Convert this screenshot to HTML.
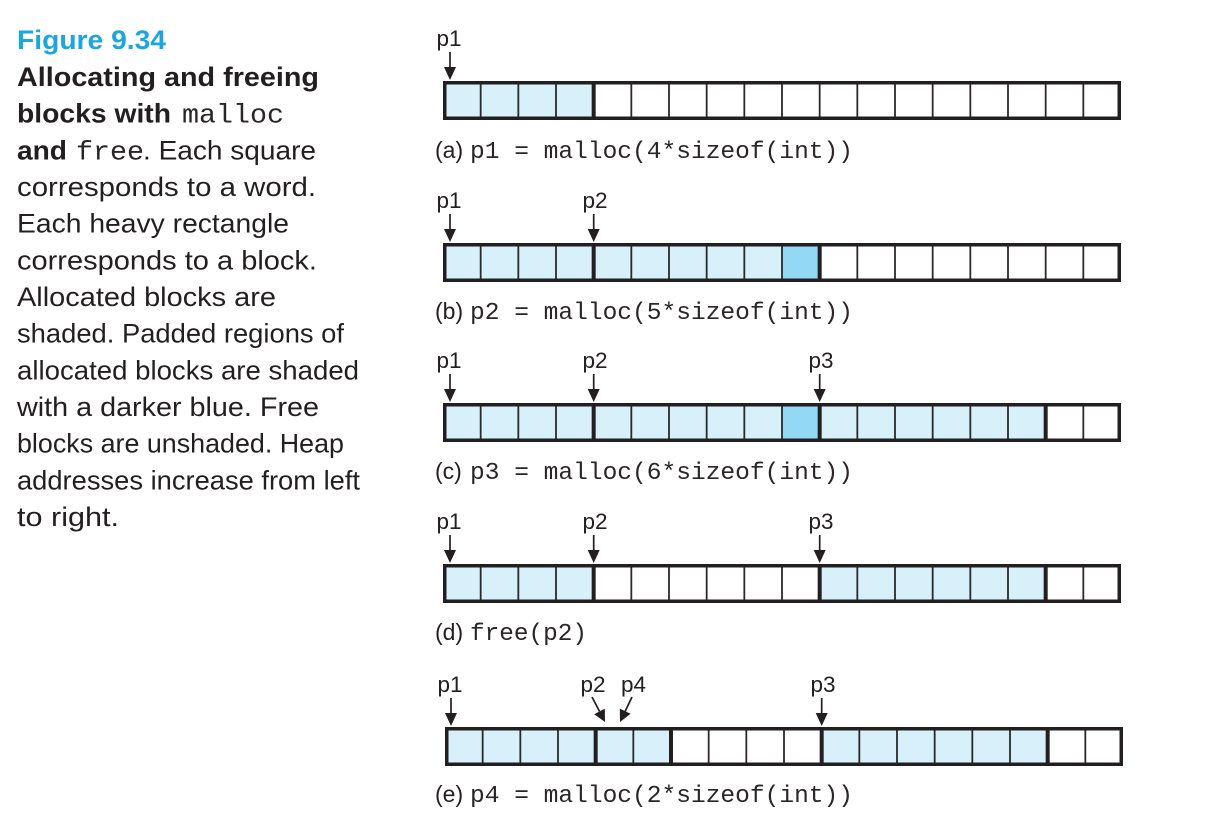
<!DOCTYPE html>
<html><head><meta charset="utf-8"><style>
html,body{margin:0;padding:0;background:#fff;}
svg{display:block;}
.sb{font-family:"Liberation Sans",sans-serif;font-weight:bold;font-size:27px;fill:#231f20;}
.sr{font-family:"Liberation Sans",sans-serif;font-size:27px;fill:#231f20;}
.mc{font-family:"Liberation Mono",monospace;font-size:27px;fill:#2a2627;}
.lb{font-family:"Liberation Sans",sans-serif;font-size:22.5px;fill:#231f20;}
.cl{font-family:"Liberation Sans",sans-serif;font-size:23px;fill:#231f20;}
.cm{font-family:"Liberation Mono",monospace;font-size:24.5px;fill:#2a2627;}
</style></head><body>
<svg width="1213" height="828" viewBox="0 0 1213 828" xmlns="http://www.w3.org/2000/svg">
<defs>
<path id="thin" d="M37.67 0V39M75.33 0V39M113 0V39M150.67 0V39M188.33 0V39M226 0V39M263.67 0V39M301.33 0V39M339 0V39M376.67 0V39M414.33 0V39M452 0V39M489.67 0V39M527.33 0V39M565 0V39M602.67 0V39M640.33 0V39" stroke="#2a2a2a" stroke-width="1.8" fill="none"/>
<rect id="outer" x="1.75" y="1.75" width="674.5" height="35.5" fill="none" stroke="#231f20" stroke-width="3.5"/>
<g id="arr"><line x1="0" y1="-29" x2="0" y2="-12" stroke="#231f20" stroke-width="1.7"/><polygon points="-6,-14 6,-14 0,-1" fill="#231f20"/></g>
</defs>

<!-- Left caption -->
<text x="17" y="49" class="sb" style="fill:#1ca6e0" textLength="149" lengthAdjust="spacingAndGlyphs">Figure 9.34</text>
<text x="17" y="86" class="sb" textLength="302" lengthAdjust="spacingAndGlyphs">Allocating and freeing</text>
<text x="17" y="122.7" class="sb" textLength="154" lengthAdjust="spacingAndGlyphs">blocks with</text>
<text x="182" y="122.7" class="mc" textLength="102" lengthAdjust="spacingAndGlyphs">malloc</text>
<text x="17" y="159.3" class="sb" textLength="50" lengthAdjust="spacingAndGlyphs">and</text>
<text x="76" y="159.3" class="mc" textLength="68" lengthAdjust="spacingAndGlyphs">free</text>
<text x="143" y="159.3" class="sr" textLength="173" lengthAdjust="spacingAndGlyphs">. Each square</text>
<text x="17" y="196" class="sr" textLength="299" lengthAdjust="spacingAndGlyphs">corresponds to a word.</text>
<text x="17" y="232.7" class="sr" textLength="272" lengthAdjust="spacingAndGlyphs">Each heavy rectangle</text>
<text x="17" y="269.3" class="sr" textLength="300" lengthAdjust="spacingAndGlyphs">corresponds to a block.</text>
<text x="17" y="306" class="sr" textLength="259" lengthAdjust="spacingAndGlyphs">Allocated blocks are</text>
<text x="17" y="342.7" class="sr" textLength="327" lengthAdjust="spacingAndGlyphs">shaded. Padded regions of</text>
<text x="17" y="379.3" class="sr" textLength="342" lengthAdjust="spacingAndGlyphs">allocated blocks are shaded</text>
<text x="17" y="416" class="sr" textLength="302" lengthAdjust="spacingAndGlyphs">with a darker blue. Free</text>
<text x="17" y="452.7" class="sr" textLength="327" lengthAdjust="spacingAndGlyphs">blocks are unshaded. Heap</text>
<text x="17" y="489.3" class="sr" textLength="343" lengthAdjust="spacingAndGlyphs">addresses increase from left</text>
<text x="17" y="526" class="sr" textLength="102" lengthAdjust="spacingAndGlyphs">to right.</text>

<!-- Row a -->
<g transform="translate(443,81)">
<rect x="0" y="0" width="150.67" height="39" fill="#d7f0fa"/>
<use href="#thin"/>
<path d="M150.67 0V39" stroke="#231f20" stroke-width="4"/>
<use href="#outer"/>
</g>
<text x="449" y="46" class="lb" text-anchor="middle">p1</text>
<use href="#arr" x="450" y="81"/>
<text x="435" y="158" class="cl">(a)</text>
<text x="470" y="158" class="cm" textLength="383" lengthAdjust="spacingAndGlyphs">p1 = malloc(4*sizeof(int))</text>

<!-- Row b -->
<g transform="translate(443,243)">
<rect x="0" y="0" width="339" height="39" fill="#d7f0fa"/>
<rect x="339" y="0" width="37.67" height="39" fill="#93d8f4"/>
<use href="#thin"/>
<path d="M150.67 0V39M376.67 0V39" stroke="#231f20" stroke-width="4"/>
<use href="#outer"/>
</g>
<text x="449" y="208" class="lb" text-anchor="middle">p1</text>
<use href="#arr" x="450" y="243"/>
<text x="595" y="208" class="lb" text-anchor="middle">p2</text>
<use href="#arr" x="593.7" y="243"/>
<text x="435" y="319" class="cl">(b)</text>
<text x="470" y="319" class="cm" textLength="383" lengthAdjust="spacingAndGlyphs">p2 = malloc(5*sizeof(int))</text>

<!-- Row c -->
<g transform="translate(443,403)">
<rect x="0" y="0" width="339" height="39" fill="#d7f0fa"/>
<rect x="339" y="0" width="37.67" height="39" fill="#93d8f4"/>
<rect x="376.67" y="0" width="226" height="39" fill="#d7f0fa"/>
<use href="#thin"/>
<path d="M150.67 0V39M376.67 0V39M602.67 0V39" stroke="#231f20" stroke-width="4"/>
<use href="#outer"/>
</g>
<text x="449" y="368" class="lb" text-anchor="middle">p1</text>
<use href="#arr" x="450" y="403"/>
<text x="595" y="368" class="lb" text-anchor="middle">p2</text>
<use href="#arr" x="593.7" y="403"/>
<text x="821" y="368" class="lb" text-anchor="middle">p3</text>
<use href="#arr" x="819.7" y="403"/>
<text x="435" y="479" class="cl">(c)</text>
<text x="470" y="479" class="cm" textLength="383" lengthAdjust="spacingAndGlyphs">p3 = malloc(6*sizeof(int))</text>

<!-- Row d -->
<g transform="translate(443,564)">
<rect x="0" y="0" width="150.67" height="39" fill="#d7f0fa"/>
<rect x="376.67" y="0" width="226" height="39" fill="#d7f0fa"/>
<use href="#thin"/>
<path d="M150.67 0V39M376.67 0V39M602.67 0V39" stroke="#231f20" stroke-width="4"/>
<use href="#outer"/>
</g>
<text x="449" y="529" class="lb" text-anchor="middle">p1</text>
<use href="#arr" x="450" y="564"/>
<text x="595" y="529" class="lb" text-anchor="middle">p2</text>
<use href="#arr" x="593.7" y="564"/>
<text x="821" y="529" class="lb" text-anchor="middle">p3</text>
<use href="#arr" x="819.7" y="564"/>
<text x="435" y="640" class="cl">(d)</text>
<text x="470" y="640" class="cm" textLength="117" lengthAdjust="spacingAndGlyphs">free(p2)</text>

<!-- Row e -->
<g transform="translate(445,727)">
<rect x="0" y="0" width="226" height="39" fill="#d7f0fa"/>
<rect x="376.67" y="0" width="226" height="39" fill="#d7f0fa"/>
<use href="#thin"/>
<path d="M150.67 0V39M226 0V39M376.67 0V39M602.67 0V39" stroke="#231f20" stroke-width="4"/>
<use href="#outer"/>
</g>
<text x="450" y="692" class="lb" text-anchor="middle">p1</text>
<use href="#arr" x="451" y="727"/>
<text x="593" y="692" class="lb" text-anchor="middle">p2</text>
<line x1="592" y1="697" x2="599.5" y2="711.4" stroke="#231f20" stroke-width="1.7"/>
<polygon points="594.2,714.2 604.8,708.6 605,722" fill="#231f20"/>
<text x="633.5" y="692" class="lb" text-anchor="middle">p4</text>
<line x1="632" y1="697" x2="625.2" y2="711.2" stroke="#231f20" stroke-width="1.7"/>
<polygon points="619.8,708.6 630.6,713.8 620,722" fill="#231f20"/>
<text x="823" y="692" class="lb" text-anchor="middle">p3</text>
<use href="#arr" x="821.7" y="727"/>
<text x="435" y="802" class="cl">(e)</text>
<text x="470" y="802" class="cm" textLength="383" lengthAdjust="spacingAndGlyphs">p4 = malloc(2*sizeof(int))</text>
</svg>
</body></html>
